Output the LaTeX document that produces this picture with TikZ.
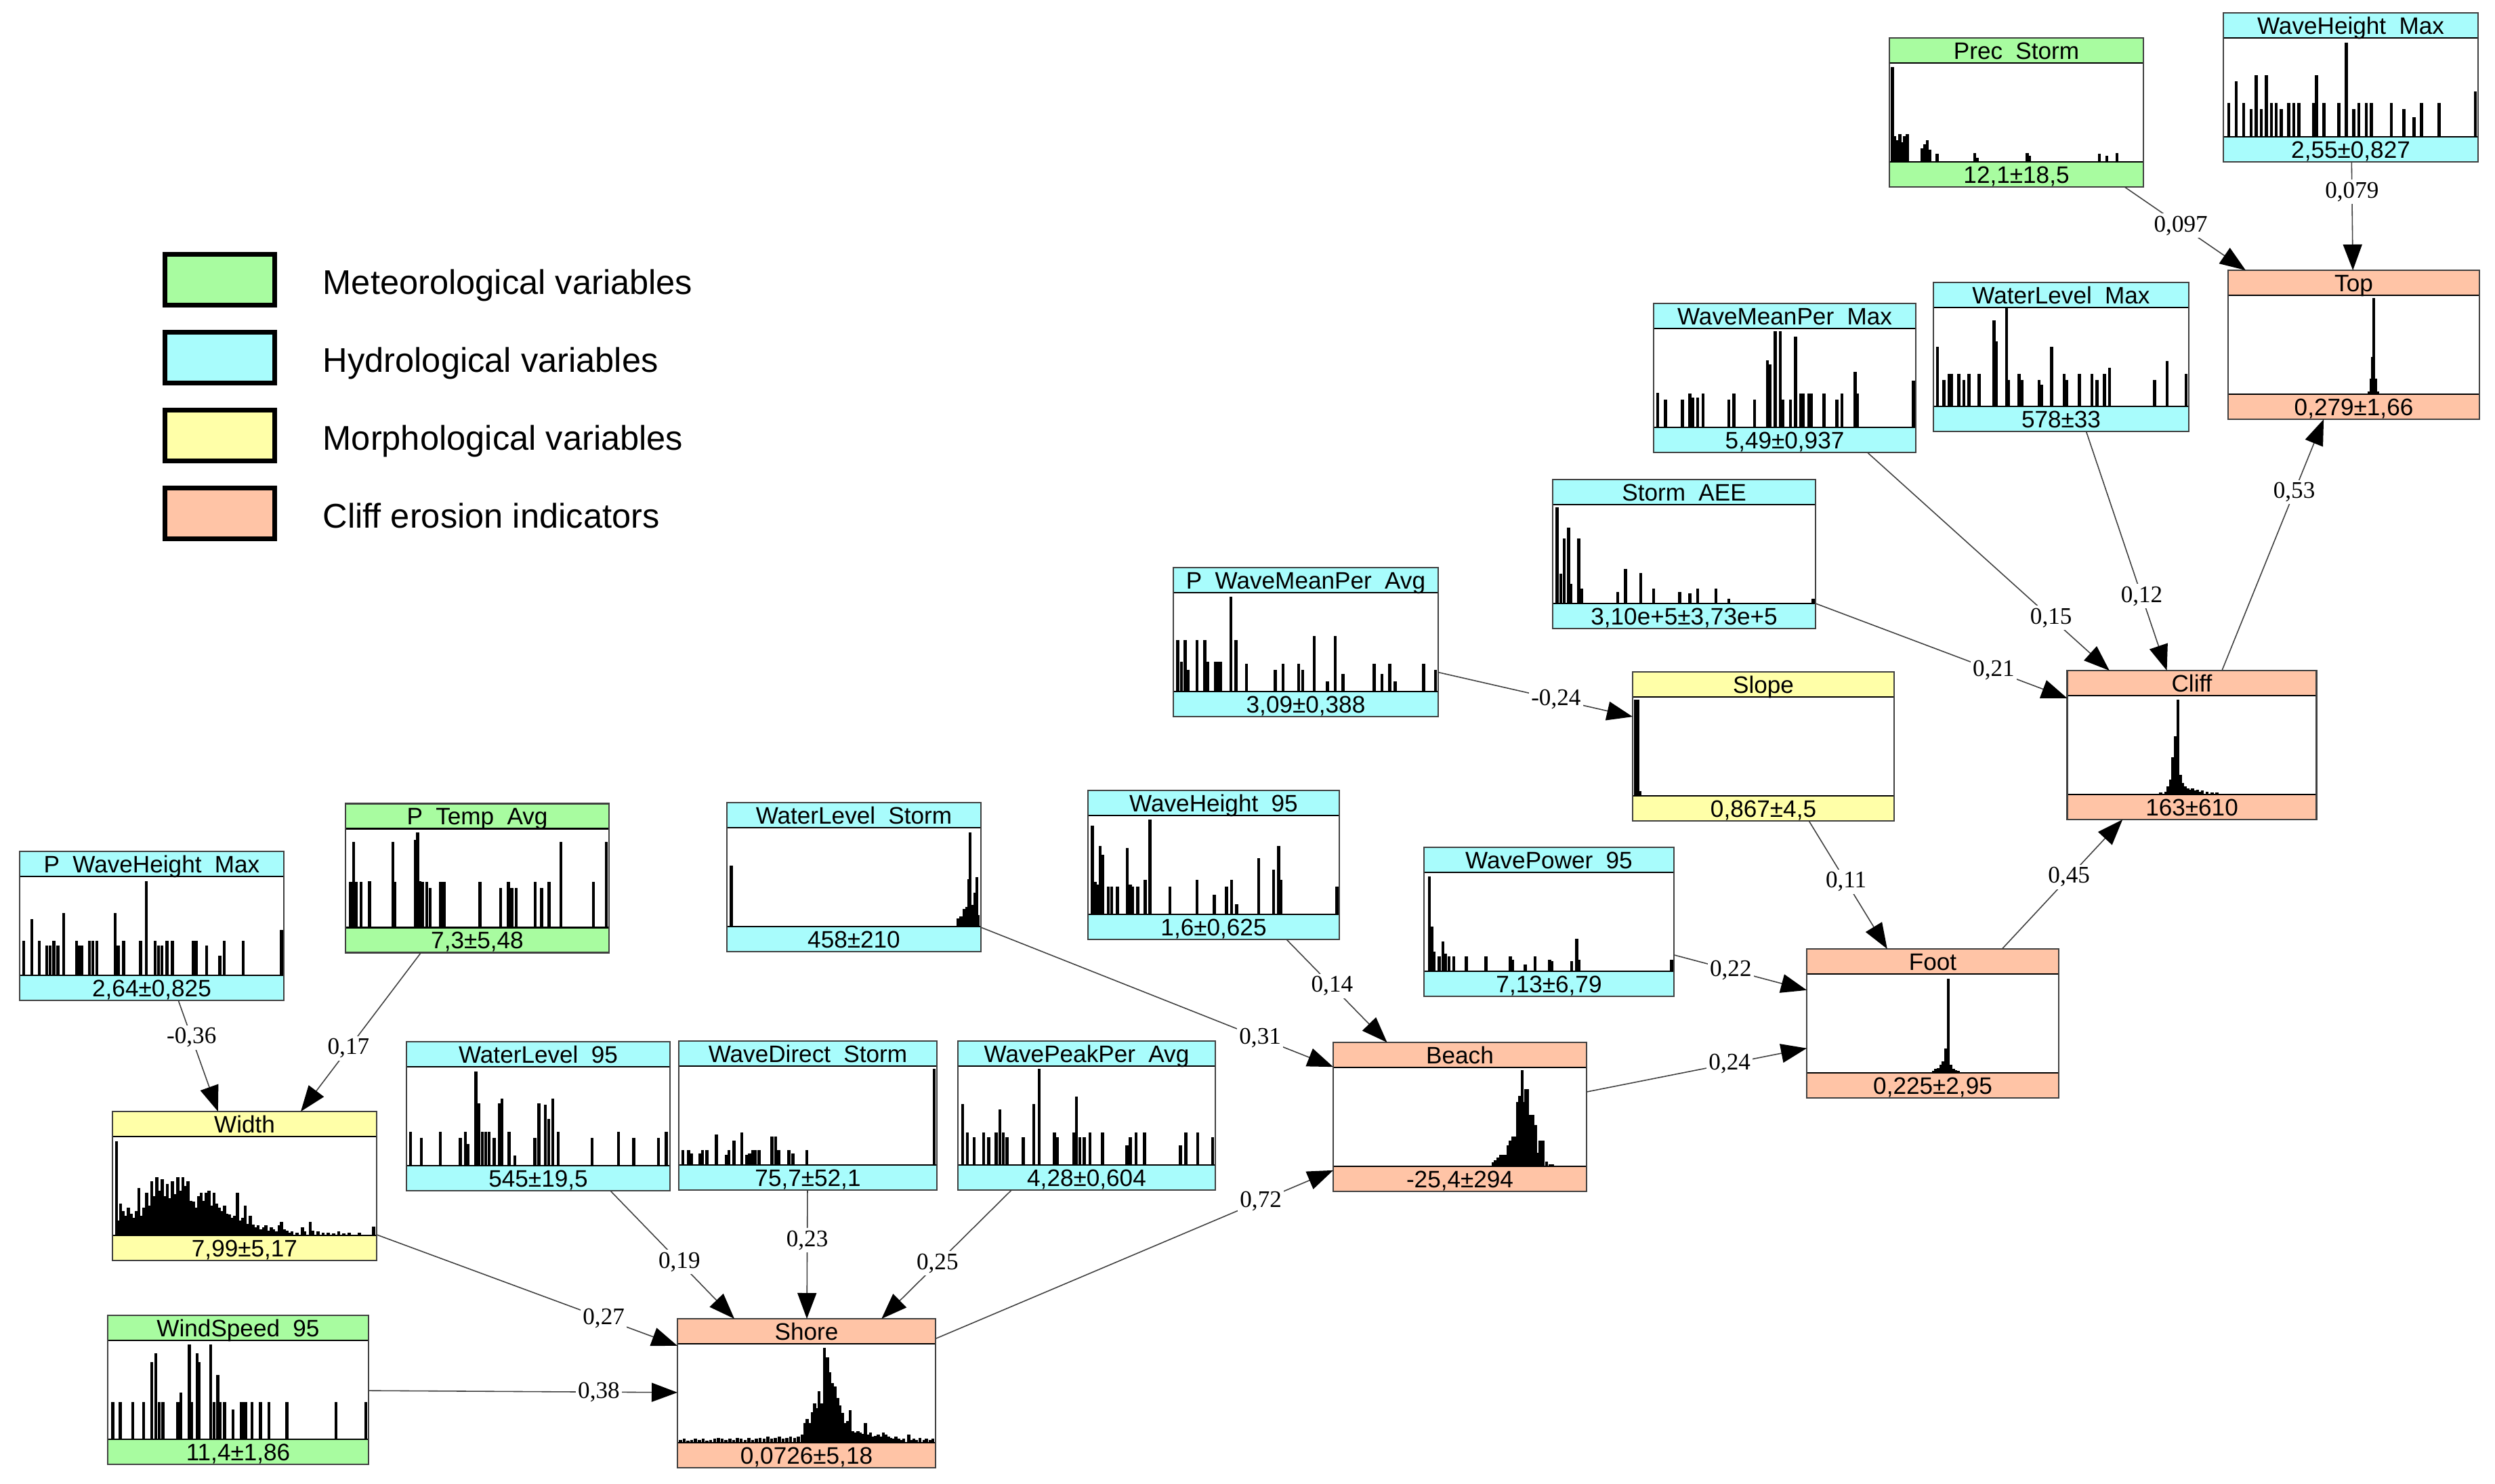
\documentclass[tikz,border=0pt]{standalone}
\usepackage{fontspec}
\setmainfont{Liberation Sans}
\newfontfamily\wtfont{Liberation Serif}
\usepackage{tikz}
\usetikzlibrary{arrows.meta,decorations.markings}
\definecolor{meteo}{RGB}{168,252,160}
\definecolor{hydro}{RGB}{168,252,252}
\definecolor{morpho}{RGB}{255,255,168}
\definecolor{erosion}{RGB}{255,196,166}
\newcommand{\ugap}{\hspace{0.55em}}
\tikzset{
  varbox/.style={fill=white, minimum height=2.2cm, inner sep=0pt, outer sep=0pt},
  frame/.style={draw=black!75, line width=0.6pt},
  rule/.style={draw=black, line width=0.6pt},
  boxtext/.style={font=\fontsize{10}{12}\selectfont, inner sep=0pt, text height=7.2pt, text depth=0pt},
  link/.style={draw=black!75, line width=0.45pt, -{Triangle[length=0.38cm,width=0.28cm,color=black]}},
  weight/.style={font=\wtfont\fontsize{10}{12}\selectfont, fill=white, inner sep=1pt},
  wt/.style={postaction={decorate,decoration={markings,mark=at position -1.16cm with {\node[weight]{#1};}}}},
  legbox/.style={draw=black, line width=1.8pt, minimum width=1.62cm, minimum height=0.75cm},
  legtext/.style={anchor=west, font=\fontsize{14.4}{17}\selectfont, inner sep=0pt, text height=10.3pt, text depth=0pt}
}
% name, x, y, width, colour, title, value, bars (pos/height in %)
\newcommand{\varbox}[8]{%
  \node[varbox, minimum width=#4cm, anchor=north west] (#1) at (#2,#3) {};
  \foreach \p/\h in {#8}
    \fill ({#2+0.02+\p/100*(#4-0.065)},{#3-1.83}) rectangle ++(0.045,{\h/100*1.46});
  \fill[#5] (#1.north west) rectangle ([yshift=-0.37cm]#1.north east);
  \fill[#5] (#1.south west) rectangle ([yshift=0.37cm]#1.south east);
  \draw[rule] ([yshift=-0.37cm]#1.north west) -- ([yshift=-0.37cm]#1.north east);
  \draw[rule] ([yshift=0.37cm]#1.south west) -- ([yshift=0.37cm]#1.south east);
  \draw[frame] (#1.north west) rectangle (#1.south east);
  \node[boxtext] (#1-t) at ([yshift=-0.185cm]#1.north) {#6};
  \node[boxtext] (#1-v) at ([yshift=0.185cm]#1.south) {#7};
}

\begin{document}
\begin{tikzpicture}
\useasboundingbox (0,0) rectangle (36.83,-21.90);

% legend
\foreach \c/\t [count=\i] in {meteo/Meteorological variables, hydro/Hydrological variables,
    morpho/Morphological variables, erosion/Cliff erosion indicators} {
  \node[legbox, fill=\c] (leg\i) at (3.245,{-4.13-1.15*(\i-1)}) {};
  \node[legtext] (legtxt\i) at (4.76,{-4.16-1.15*(\i-1)}) {\t};
}

% meteorological variables
\varbox{prec}{27.89}{-0.56}{3.75}{meteo}{Prec\ugap Storm}{12,1±18,5}
  {0/96,1/26,2/22,3/28,4/20,5/26,6/28,12/14,13/18,14/22,15/12,18/8,33/9,34/4,54/9,55/6,83/8,86/6,90/9}
\varbox{ptemp}{5.10}{-11.865}{3.89}{meteo}{P\ugap Temp\ugap Avg}{7,3±5,48}
  {0.8/46,2/87,3/46,4.9/46,8.2/47,17.2/87,18/46,25.9/89,26.7/96,27.5/47,28.7/46,30.3/46,31.6/40,35.6/46,36.9/46,
   50.8/46,58.7/40,61.8/46,63.1/40,64.8/40,72.1/46,74.6/40,77.5/46,82/87,94.6/46,99.5/87}
\varbox{wind}{1.59}{-19.42}{3.85}{meteo}{WindSpeed\ugap 95}{11,4±1,86}
  {0.8/38,3.8/38,8.6/38,12.9/38,16/78,17.7/87,19/38,20.4/38,26.2/38,27.4/47,30.7/96,31.5/38,33.7/87,34.5/78,39/96,
   40.3/38,41.8/65,42.8/38,44.4/38,47.8/30,50.9/38,51.9/38,52.7/38,55.2/38,58.5/38,61.7/38,68.8/38,87.9/38,99.5/38}

% hydrological variables
\varbox{whmax}{32.82}{-0.19}{3.76}{hydro}{WaveHeight\ugap Max}{2,55±0,827}
  {1/34,4/56,7/34,10/28,12/62,14/28,16/62,18/34,20/34,22/28,25/34,27/34,29/34,35/34,36/62,39/34,45/34,48/95,
   51/28,53/34,56/34,58/34,66/34,71/28,75/20,78/34,85/34,99.5/46}
\varbox{wlmax}{28.54}{-4.17}{3.77}{hydro}{WaterLevel\ugap Max}{578±33}
  {0.5/60,3/27,5/33,6/33,9/33,11/27,13/33,17/33,23/87,24/66,28/99,28.8/27,33/33,34/27,41/27,42/22,46/60,51/33,
   52/27,57/33,62/33,64/27,67/33,69/39,87/27,92/46,99.5/33}
\varbox{wmpmax}{24.41}{-4.48}{3.87}{hydro}{WaveMeanPer\ugap Max}{5,49±0,937}
  {0.4/35,3.5/28,10/28,13/34,14/30,16/30,18/34,28/28,30/34,38/28,43/68,44/64,46/97,48/97,49/28,52/28,54/92,56/34,
   57/34,59/34,60/34,65/34,70/28,72/34,77/56,78/34,99.6/47}
\varbox{aee}{22.92}{-7.08}{3.88}{hydro}{Storm\ugap AEE}{3,10e+5±3,73e+5}
  {0.6/97,2/30,3.4/66,5/77,6/20,9/66,10/15,24/12,27/35,33/31,38/15,48/12,52/10,55/15,62/15,67/5,99.6/5}
\varbox{pwmp}{17.32}{-8.38}{3.91}{hydro}{P\ugap WaveMeanPer\ugap Avg}{3,09±0,388}
  {0.6/52,2/30,3.5/52,4.5/22,8/52,11/52,12/30,15/30,16/30,17/30,21/96,23/52,27/28,38/22,41/28,47/28,48.5/22,53/56,
   58/10,61/56,64/18,76/28,79/18,82/28,84/10,95/28,99.6/22}
\varbox{pwhmax}{0.29}{-12.57}{3.90}{hydro}{P\ugap WaveHeight\ugap Max}{2,64±0,825}
  {0.5/35,3.6/57,6.5/35,9.3/30,10.6/30,12/35,13.6/30,15.8/63,20.8/35,21.7/30,22.9/30,25.7/35,27/35,28.6/35,35.6/63,
   36.8/30,38.9/35,45.4/35,47.7/95,51/35,52.3/30,53.6/30,55.6/35,57.7/35,65.8/35,67/35,70.8/30,76/20,77.6/35,85/35,99.7/46}
\varbox{wlstorm}{10.73}{-11.85}{3.75}{hydro}{WaterLevel\ugap Storm}{458±210}
  {0.6/62,91.5/8,92.5/10,93.3/10,94/18,95/20,95.7/48,96.2/95,97/22,97.7/22,98.3/34,99/50,99.5/12}
\varbox{wh95}{16.06}{-11.67}{3.71}{hydro}{WaveHeight\ugap 95}{1,6±0,625}
  {0.6/90,1.7/33,2.8/30,3.7/69,4.7/60,7/28,8.4/28,10.7/28,14.8/67,16/30,17/28,19/28,22/35,24/96,32/28,43/35,50/20,
   55/28,57/35,59/10,68/57,74/45,76/69,77/35,99.6/28}
\varbox{wp95}{21.02}{-12.51}{3.69}{hydro}{WavePower\ugap 95}{7,13±6,79}
  {1/96,2/45,3/20,5/15,6.6/30,7.7/18,9/15,11/15,16/15,24/15,34/15,35/12,40/7,44/15,50/12,51/10,59/10,61/33,62/12,99.6/12}
\varbox{wl95}{6.00}{-15.38}{3.89}{hydro}{WaterLevel\ugap 95}{545±19,5}
  {0.5/34,4.6/28,12/34,19.7/28,21.6/34,22.5/22,25.7/95,26.7/63,28.2/34,29.5/34,30.8/34,32.8/28,34.8/63,35.7/68,
   38.5/34,40.7/10,48.4/28,50/63,52.5/62,53.8/47,55.4/68,57.4/34,70.5/28,80.7/34,86.6/28,96.2/28,99.2/34}
\varbox{wdir}{10.02}{-15.37}{3.81}{hydro}{WaveDirect\ugap Storm}{75,7±52,1}
  {0.5/15,2.7/15,4/12,7.3/12,8.2/15,10/15,13.7/31,17.7/10,18.6/15,20.6/25,23.7/33,25.5/10,26.8/12,28/15,29/15,
   30.5/15,35.6/29,37/29,38.3/15,42.3/15,43.8/12,49.3/15,99.5/97}
\varbox{wpp}{14.14}{-15.37}{3.80}{hydro}{WavePeakPer\ugap Avg}{4,28±0,604}
  {0.7/62,2.6/33,5.3/28,9/33,11/28,14/33,15.4/56,16.8/33,18.3/28,24.7/28,28.9/62,31/97,37/33,38.2/28,44.6/33,
   45.7/69,47/28,48.8/28,51/33,56/33,65.6/20,67/28,69.3/33,72.6/33,86.8/20,89/33,93.6/33,99.5/28}

% morphological variables
\varbox{slope}{24.10}{-9.92}{3.86}{morpho}{Slope}{0,867±4,5}
  {0/97,0.8/97,1.6/5}
\varbox{width}{1.66}{-16.41}{3.90}{morpho}{Width}{7,99±5,17}
  {0.5/95,1/15,2/32,3/25,4/20,5/28,6/22,7/18,8/25,9/48,10/20,11/28,12/43,13/30,14/55,15/40,16/59,17/45,18/57,
   19/40,20/52,21/38,22/55,23/42,24/59,25/45,26/59,27/50,28/55,29/35,30/34,31/28,32/40,33/43,34/35,35/43,36/45,
   37/30,38/43,39/32,40/28,41/25,42/30,43/22,44/21,45/18,46/20,47/43,48/15,49/18,50/30,51/12,52/20,53/11,54/8,
   55/10,56/6,57/8,58/10,59/5,60/8,61/6,62/4,63/10,64/14,65/6,66/5,67/3,68/4,70/3,72/8,73/4,75/14,76/5,78/4,
   80/3,82/3,84/2,86/4,88/2,90/3,94/3,99.4/9}

% cliff erosion indicators
\varbox{top}{32.89}{-3.99}{3.71}{erosion}{Top}{0,279±1,66}
  {56/3,56.8/16,57.3/38,57.8/97,58.5/16,59.3/3}
\varbox{cliff}{30.515}{-9.90}{3.68}{erosion}{Cliff}{163±610}
  {35/1,37/2,39/3,40/8,41/15,42/38,43/59,44/96,45/20,46/12,47/8,48/6,49/5,50/6,51/4,52/5,53/3,54/4,56/3,58/2,60/2,63/1}
\varbox{foot}{26.67}{-14.01}{3.72}{erosion}{Foot}{0,225±2,95}
  {50/2,51/4,52/5,53/8,54/12,55/25,56/95,57/8,58/4,59/3,60/2,64/1,70/1}
\varbox{beach}{19.68}{-15.39}{3.74}{erosion}{Beach}{-25,4±294}
  {16/1,46/1,52/1,54/1,59/1,63/4,64/6,65/9,66/12,67/12,68/12,69/21,70/26,71/30,72/30,72.8/65,73.8/71,74.8/97,
   75.5/65,76.3/78,77/78,78/52,79/52,80/42,81/14,82/26,83/26,84.5/5,86/2,87/2}
\varbox{shore}{10.00}{-19.47}{3.81}{erosion}{Shore}{0,0726±5,18}
  {0/3,1.5/4,3/2,4.5/3,6/4,7.5/3,9/4,10.5/2,12/3,13.5/4,15/5,16.5/4,18/3,19.5/4,21/3,22.5/5,24/4,25.5/3,27/5,
   28.5/3,30/4,31.5/5,33/4,34.5/6,36/4,37.5/5,39/6,40.5/4,42/5,43.5/6,45/5,46.5/6,48/8,49/20,50/24,51/20,52/31,
   53/40,54/35,54.7/52,55.8/40,56.8/96,58/86,59/71,60/60,61/57,62/45,63/38,64/30,65/20,66/22,67/33,68/12,69/10,
   70/12,71/10,72/9,73/20,74/8,75/10,76/6,77/7,78/8,79/6,80/10,81/8,82/6,83/5,84/4,85/6,86/4,87/3,88/4,90/8,
   91/3,92/4,93/3,94.5/5,96/3,97/4,98.5/3,99.5/4}

% links
\draw[link, wt={0,097}] (prec) -- (top);
\draw[link, wt={0,079}] (whmax) -- (top);
\draw[link, wt={0,53}] (cliff) -- (top);
\draw[link, wt={0,12}] (wlmax) -- (cliff);
\draw[link, wt={0,15}] (wmpmax) -- (cliff);
\draw[link, wt={0,21}] (aee) -- (cliff);
\draw[link, wt={0,45}] (foot) -- (cliff);
\draw[link, wt={0,11}] (slope) -- (foot);
\draw[link, wt={0,22}] (wp95) -- (foot);
\draw[link, wt={0,24}] (beach) -- (foot);
\draw[link, wt={-0,24}] (pwmp) -- (slope);
\draw[link, wt={0,14}] (wh95) -- (beach);
\draw[link, wt={0,31}] (wlstorm) -- (beach);
\draw[link, wt={0,72}] (shore) -- (beach);
\draw[link, wt={-0,36}] (pwhmax) -- (width);
\draw[link, wt={0,17}] (ptemp) -- (width);
\draw[link, wt={0,27}] (width) -- (shore);
\draw[link, wt={0,38}] (wind) -- (shore);
\draw[link, wt={0,19}] (wl95) -- (shore);
\draw[link, wt={0,23}] (wdir) -- (shore);
\draw[link, wt={0,25}] (wpp) -- (shore);

\end{tikzpicture}
\end{document}
